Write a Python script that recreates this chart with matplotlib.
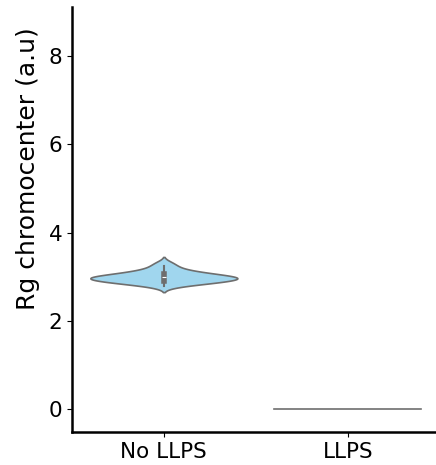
import pandas as pd
import seaborn as sns
import matplotlib.pyplot as plt

# ================
# Data
# ================
categories = ['No LLPS', 'LLPS']
no_llps = [2.78, 2.82, 2.85, 2.86, 2.87, 2.88, 2.90, 2.91, 2.92, 2.93,
           2.94, 2.95, 2.96, 2.97, 2.98, 2.99, 3.00, 3.00, 3.01, 3.02,
           3.03, 3.05, 3.07, 3.09, 3.10, 3.12, 3.15, 3.20, 3.25, 3.32]
llps = [0.0] * 30
yticks = [0, 2, 4, 6, 8]

df = pd.DataFrame({
    'group': [categories[0]] * len(no_llps) + [categories[1]] * len(llps),
    'rg': no_llps + llps,
})

# ================
# Plot
# ================
fig, ax = plt.subplots(figsize=(4.36, 4.65), dpi=100)
fig.subplots_adjust(left=0.165, right=1.0, bottom=0.07, top=0.985)

sns.violinplot(data=df, x='group', y='rg', order=categories, color='#a0d6ee',
               saturation=1, linecolor='#6e6e6e', linewidth=1.2, width=0.8,
               inner_kws={'box_width': 4, 'whis_width': 1.5}, ax=ax)

ax.set_xlim(-0.5, 1.48)
ax.set_ylim(-0.52, 9.1)
ax.set_yticks(yticks)
ax.set_xlabel('')
ax.set_ylabel('Rg chromocenter (a.u)', fontsize=18)
ax.yaxis.set_label_coords(-0.088, 0.62)
ax.tick_params(axis='both', labelsize=15.5)
for s in ['top', 'right']:
    ax.spines[s].set_visible(False)
for s in ['left', 'bottom']:
    ax.spines[s].set_linewidth(1.8)

fig.savefig('out.png', dpi=100)
